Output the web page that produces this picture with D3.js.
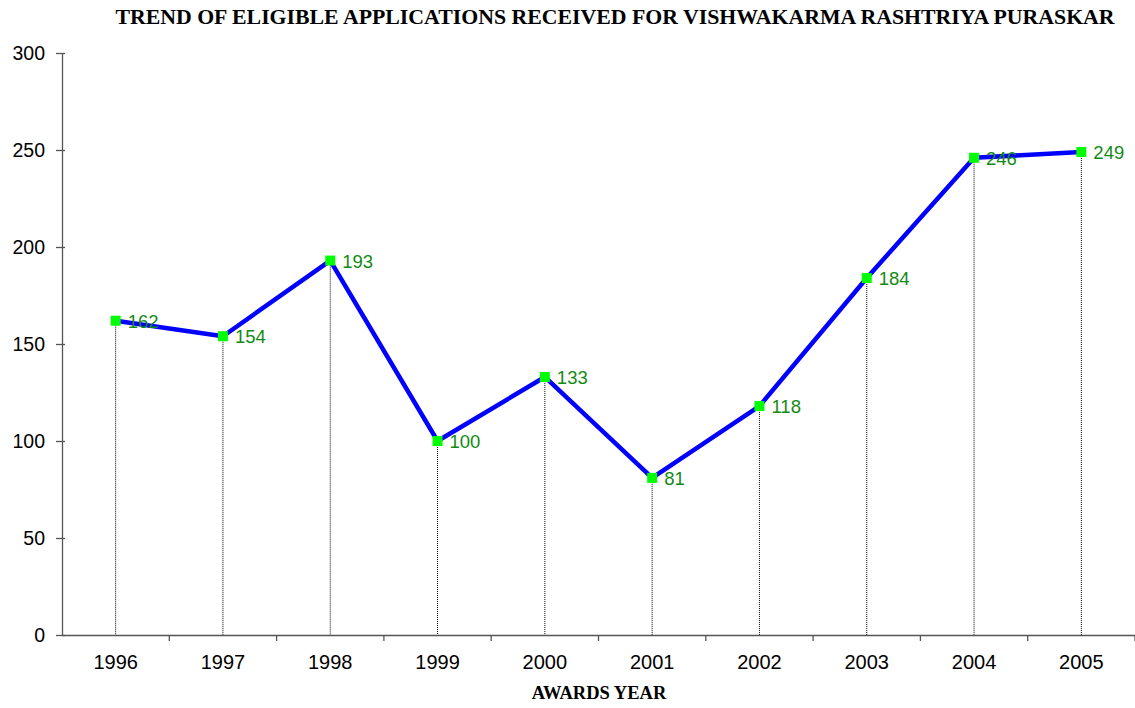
<!DOCTYPE html>
<html>
<head>
<meta charset="utf-8">
<script src="https://cdn.jsdelivr.net/npm/d3@7"></script>
<style>
  body { margin: 0; background: #fff; }
  svg { display: block; }
</style>
</head>
<body>
<svg id="chart"></svg>
<script>
// chart data
const years = ['1996', '1997', '1998', '1999', '2000', '2001', '2002', '2003', '2004', '2005'];
const applications = [162, 154, 193, 100, 133, 81, 118, 184, 246, 249];
const yTicks = [0, 50, 100, 150, 200, 250, 300];

const width = 1135, height = 708;
const margin = {top: 53, right: 0, bottom: 73, left: 62};

const svg = d3.select('#chart')
  .attr('width', width)
  .attr('height', height);

const x = d3.scaleBand()
  .domain(years)
  .range([margin.left, width - margin.right]);

const y = d3.scaleLinear()
  .domain([0, 300])
  .range([height - margin.bottom, margin.top]);

const data = years.map((yr, i) => ({year: yr, value: applications[i]}));
const cx = d => x(d.year) + x.bandwidth() / 2;

// title
svg.append('text')
  .attr('x', 615)
  .attr('y', 24)
  .attr('text-anchor', 'middle')
  .attr('font-family', '"Liberation Serif", "Times New Roman", serif')
  .attr('font-weight', 'bold')
  .attr('font-size', '21.8px')
  .text('TREND OF ELIGIBLE APPLICATIONS RECEIVED FOR VISHWAKARMA RASHTRIYA PURASKAR');

// drop lines
svg.append('g')
  .selectAll('line')
  .data(data)
  .join('line')
    .attr('x1', cx)
    .attr('x2', cx)
    .attr('y1', d => y(d.value))
    .attr('y2', y(0))
    .attr('stroke', '#000')
    .attr('stroke-width', 1)
    .attr('stroke-dasharray', '1,1');

// y axis
const yAxis = svg.append('g')
  .attr('transform', 'translate(' + margin.left + ',0)')
  .call(d3.axisLeft(y).tickValues(yTicks).tickSize(0).tickPadding(17));
yAxis.select('.domain').attr('stroke', '#555').attr('stroke-width', 1.3);
yAxis.selectAll('.tick').append('line')
  .attr('x1', -6).attr('x2', 3)
  .attr('stroke', '#555').attr('stroke-width', 1.3);
yAxis.selectAll('text')
  .attr('font-family', '"Liberation Sans", Arial, sans-serif')
  .attr('font-size', '19.5px')
  .attr('fill', '#000');

// x axis
const xAxis = svg.append('g')
  .attr('transform', 'translate(0,' + y(0) + ')')
  .call(d3.axisBottom(x).tickSize(0).tickPadding(20));
xAxis.select('.domain').attr('stroke', '#555').attr('stroke-width', 1.3);
xAxis.selectAll('text')
  .attr('font-family', '"Liberation Sans", Arial, sans-serif')
  .attr('font-size', '20px')
  .attr('fill', '#000');
xAxis.append('g')
  .selectAll('line')
  .data(years.slice(1).concat(['end']))
  .join('line')
    .attr('x1', (d, i) => x.range()[0] + (i + 1) * x.bandwidth())
    .attr('x2', (d, i) => x.range()[0] + (i + 1) * x.bandwidth())
    .attr('y1', 0)
    .attr('y2', 6)
    .attr('stroke', '#555')
    .attr('stroke-width', 1.3);

// x axis title
svg.append('text')
  .attr('x', 599)
  .attr('y', 699)
  .attr('text-anchor', 'middle')
  .attr('font-family', '"Liberation Serif", "Times New Roman", serif')
  .attr('font-weight', 'bold')
  .attr('font-size', '18.5px')
  .text('AWARDS YEAR');

// line
svg.append('path')
  .datum(data)
  .attr('fill', 'none')
  .attr('stroke', '#0000ff')
  .attr('stroke-width', 4.5)
  .attr('stroke-linejoin', 'round')
  .attr('d', d3.line().x(cx).y(d => y(d.value)));

// markers
svg.append('g')
  .selectAll('rect')
  .data(data)
  .join('rect')
    .attr('x', d => cx(d) - 5)
    .attr('y', d => y(d.value) - 5)
    .attr('width', 10)
    .attr('height', 10)
    .attr('fill', '#00ff00');

// value labels
svg.append('g')
  .selectAll('text')
  .data(data)
  .join('text')
    .attr('x', d => cx(d) + 12)
    .attr('y', d => y(d.value) + 7)
    .attr('font-family', '"Liberation Sans", Arial, sans-serif')
    .attr('font-size', '18.5px')
    .attr('fill', '#138a13')
    .text(d => d.value);
</script>
</body>
</html>
